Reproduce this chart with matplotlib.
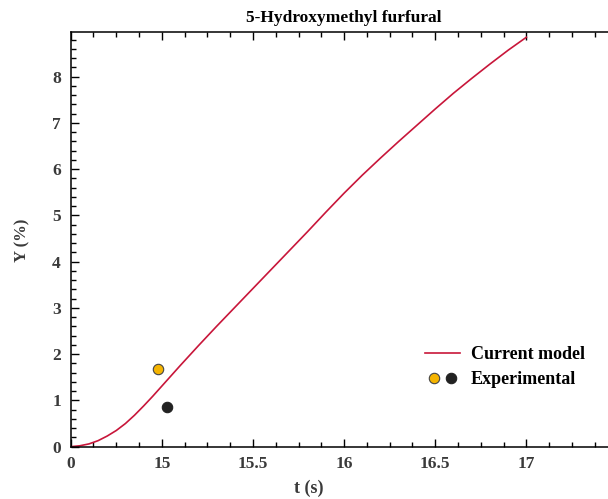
import matplotlib
matplotlib.use("Agg")
import matplotlib.pyplot as plt
from matplotlib.legend_handler import HandlerTuple
from matplotlib.ticker import FixedLocator, MultipleLocator, FuncFormatter

# model curve
t_model = [14.5, 14.55, 14.6, 14.65, 14.7, 14.75, 14.8, 14.85, 14.9, 14.95,
           15.0, 15.1, 15.2, 15.3, 15.4, 15.5, 15.6, 15.7, 15.8, 15.9,
           16.0, 16.1, 16.2, 16.3, 16.4, 16.5, 16.6, 16.7, 16.8, 16.9, 17.0]
y_model = [0.00, 0.02, 0.06, 0.13, 0.23, 0.35, 0.50, 0.68, 0.88, 1.09,
           1.31, 1.75, 2.18, 2.60, 3.01, 3.42, 3.83, 4.24, 4.65, 5.07,
           5.48, 5.87, 6.24, 6.60, 6.95, 7.30, 7.64, 7.96, 8.27, 8.57, 8.85]

# experimental points
t_exp_a = [14.98]
y_exp_a = [1.67]
t_exp_b = [15.03]
y_exp_b = [0.85]

x_ticks = [14.5, 15.0, 15.5, 16.0, 16.5, 17.0, 17.5]
x_tick_labels = ["0", "15", "15.5", "16", "16.5", "17", ""]

plt.rcParams["font.family"] = ["Liberation Serif", "DejaVu Serif"]
plt.rcParams["font.weight"] = "bold"

fig = plt.figure(figsize=(6.08, 4.99), dpi=100)
ax = fig.add_axes([70.7 / 608, 52.3 / 499, 546.8 / 608, 415.0 / 499])

line, = ax.plot(t_model, y_model, color="#c8163a", lw=1.2)
pa, = ax.plot(t_exp_a, y_exp_a, "o", ms=7.5, mfc="#f5b400", mec="#444444", mew=0.8)
pb, = ax.plot(t_exp_b, y_exp_b, "o", ms=7.5, mfc="#222222", mec="#222222", mew=0.8)

ax.set_xlim(14.5, 17.5)
ax.set_ylim(0, 8.97)

ax.xaxis.set_major_locator(FixedLocator(x_ticks))
ax.xaxis.set_major_formatter(FuncFormatter(lambda v, p: x_tick_labels[p] if p < len(x_tick_labels) else ""))
ax.xaxis.set_minor_locator(MultipleLocator(0.125))
ax.yaxis.set_major_locator(MultipleLocator(1))
ax.yaxis.set_minor_locator(MultipleLocator(0.2))

ax.tick_params(which="both", direction="in", top=True, right=False,
               width=1.0, color="black")
ax.tick_params(which="major", length=6, labelsize=12.5, labelcolor="#3a3a3a", pad=7)
ax.tick_params(which="minor", length=3.5)
for lab in ax.get_xticklabels() + ax.get_yticklabels():
    lab.set_fontweight("bold")

for side in ["left", "bottom", "top"]:
    ax.spines[side].set_linewidth(1.1)
ax.spines["right"].set_visible(False)

ax.set_title("5-Hydroxymethyl furfural", fontsize=12.5, fontweight="bold", pad=7)
ax.set_xlabel("t (s)", fontsize=13, fontweight="bold", color="#3a3a3a")
ax.set_ylabel("Y (%)", fontsize=12, fontweight="bold", color="#3a3a3a")
ax.xaxis.set_label_coords((309 - 70.7) / 546.8, -33.0 / 415.0)
ax.yaxis.set_label_coords(-40.0 / 546.8, (446.7 - 240) / 415.0)

ax.legend([line, (pa, pb)], ["Current model", "Experimental"],
          handler_map={tuple: HandlerTuple(ndivide=None, pad=0.0)},
          loc="upper left", bbox_to_anchor=(338 / 546.8, (446.7 - 330) / 415.0),
          frameon=False, handlelength=1.95, handletextpad=0.6, labelspacing=0.45,
          prop={"size": 13, "weight": "bold"})

fig.savefig("out.png", dpi=100)
